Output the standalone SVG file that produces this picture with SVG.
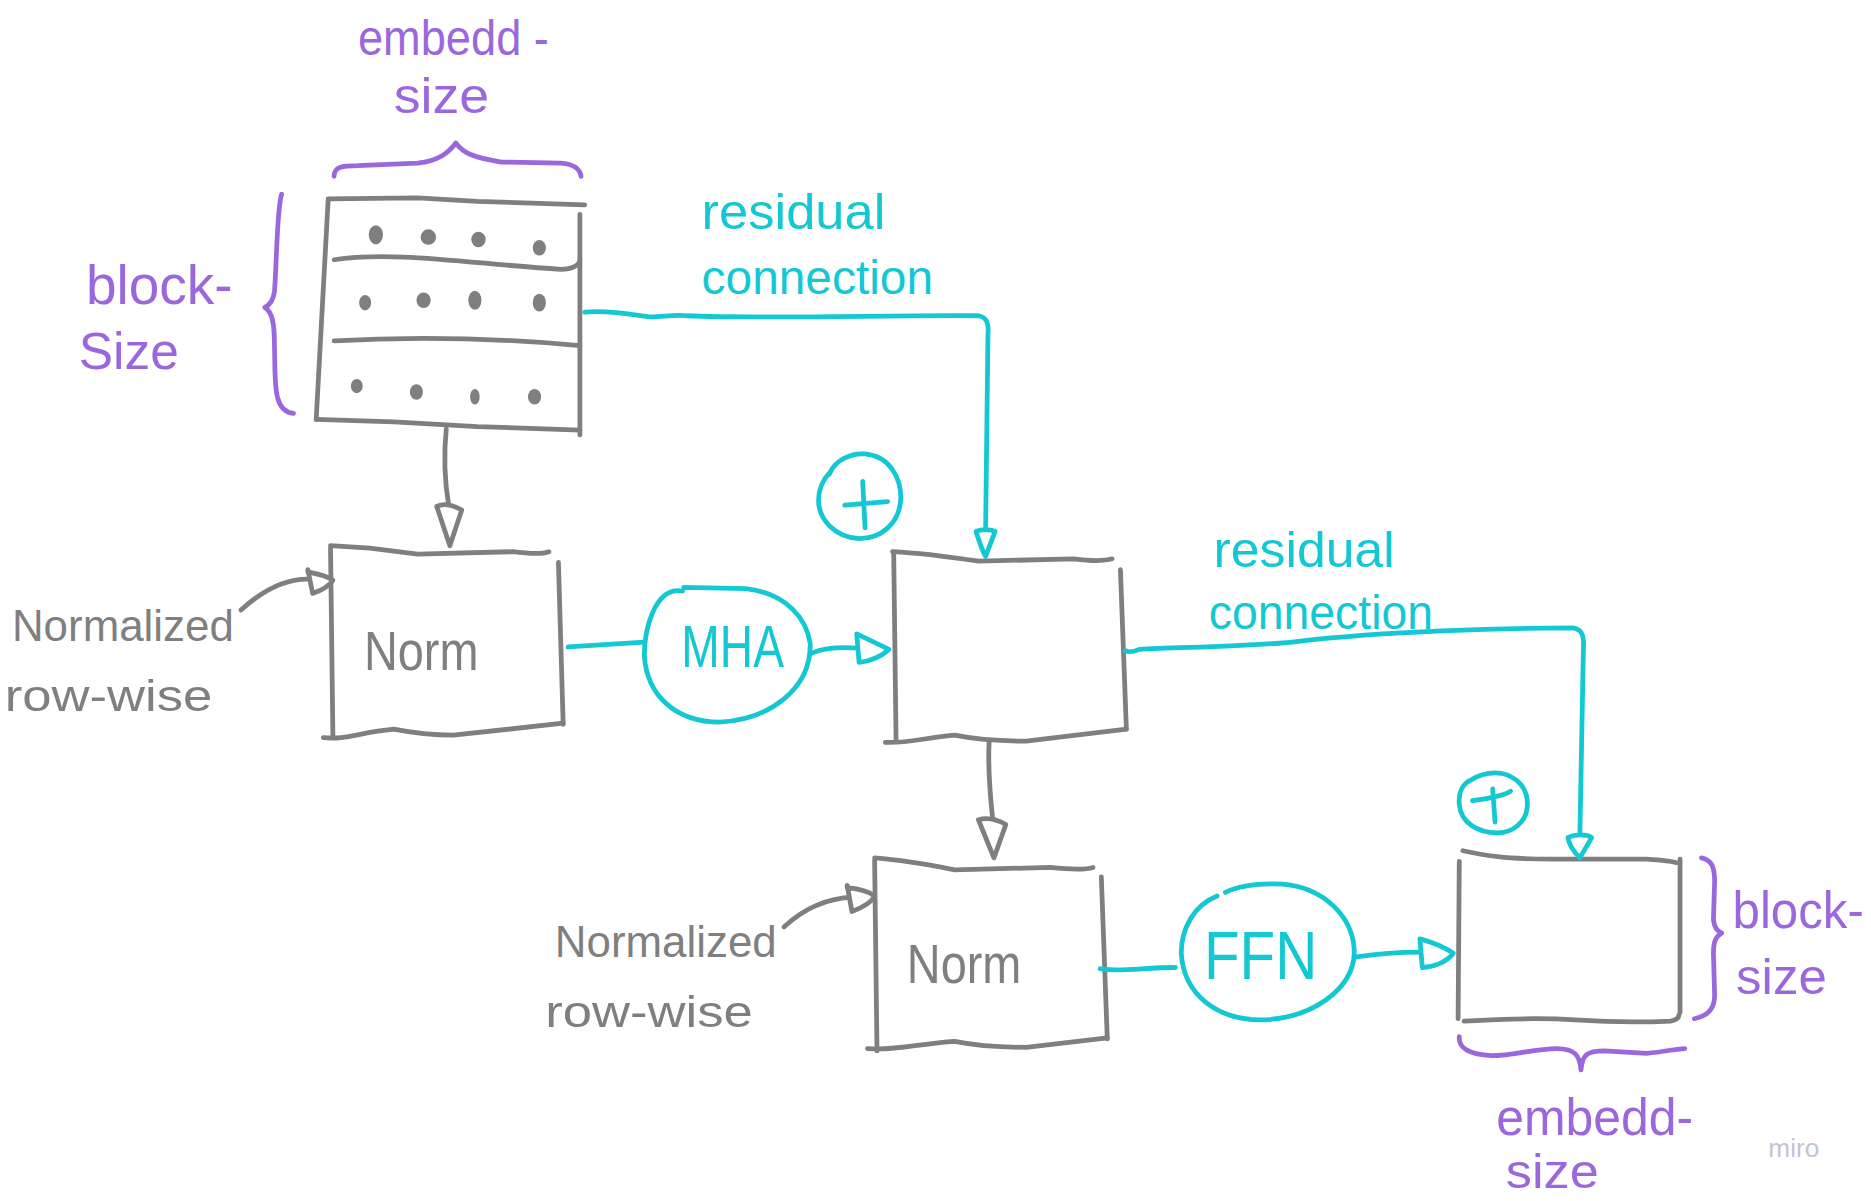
<svg xmlns="http://www.w3.org/2000/svg" width="1871" height="1201" viewBox="0 0 1871 1201">
<style>
.g{fill:none;stroke:#7f7f7f;stroke-width:4;stroke-linecap:round;stroke-linejoin:round}
.c{fill:none;stroke:#14c8d3;stroke-width:4;stroke-linecap:round;stroke-linejoin:round}
.p{fill:none;stroke:#9a68dc;stroke-width:4;stroke-linecap:round;stroke-linejoin:round}
.dot{fill:#7f7f7f}
text{font-family:"Liberation Sans","Open Sans",sans-serif}
.tg{fill:#7f7f7f}
.tc{fill:#14c8d3}
.tp{fill:#9a68dc}
.ah{fill:#fff}
</style>
<rect width="1871" height="1201" fill="#fff"/>
<g transform="scale(1.1932,1.1915)">
<g id="matrix">
<path class="g" d="M275,167 L350,166 L400,169 L490,172"/>
<path class="g" d="M275,168 L265,352"/>
<path class="g" d="M486,180 L486,365"/>
<path class="g" d="M265,352 L330,354 L400,358 L486,361"/>
<path class="g" d="M280,218 C330,210 400,222 470,226 C480,226 486,222 486,218"/>
<path class="g" d="M280,286 C350,282 420,284 486,290"/>
<ellipse class="dot" cx="315" cy="197" rx="6" ry="8"/>
<ellipse class="dot" cx="359" cy="199" rx="6.5" ry="6.5"/>
<ellipse class="dot" cx="401" cy="201" rx="6" ry="6.5"/>
<ellipse class="dot" cx="452" cy="208" rx="5.5" ry="6.5"/>
<ellipse class="dot" cx="306" cy="254" rx="5" ry="6.5"/>
<ellipse class="dot" cx="355" cy="252" rx="6" ry="6.5"/>
<ellipse class="dot" cx="398" cy="252" rx="5.5" ry="8"/>
<ellipse class="dot" cx="452" cy="254" rx="5.5" ry="7.5"/>
<ellipse class="dot" cx="299" cy="324" rx="5" ry="6"/>
<ellipse class="dot" cx="349" cy="329" rx="5.5" ry="6.5"/>
<ellipse class="dot" cx="398" cy="333" rx="4" ry="6.5"/>
<ellipse class="dot" cx="448" cy="333" rx="5.5" ry="6.5"/>
</g>
<g id="embed-brace-top">
<path class="p" d="M280,148 C280,140 286,139 300,139 L350,137 C368,135 376,128 382,120 C388,128 395,132 420,136 L470,137 C482,138 486,142 487,148"/>
<text class="tp" x="300" y="46" font-size="42" textLength="160" lengthAdjust="spacingAndGlyphs">embedd -</text>
<text class="tp" x="330" y="95" font-size="42" textLength="80" lengthAdjust="spacingAndGlyphs">size</text>
</g>
<g id="block-brace-left">
<path class="p" d="M236,163 C232,175 232,220 230,245 C229,252 226,256 222,258 C228,262 230,270 230,290 C231,320 228,345 246,347"/>
<text class="tp" x="72" y="255" font-size="46" textLength="123" lengthAdjust="spacingAndGlyphs">block-</text>
<text class="tp" x="66" y="310" font-size="44" textLength="84" lengthAdjust="spacingAndGlyphs">Size</text>
</g>
<g id="residual-label-1">
<text class="tc" x="588" y="192" font-size="42" textLength="154" lengthAdjust="spacingAndGlyphs">residual</text>
<text class="tc" x="588" y="247" font-size="40" textLength="194" lengthAdjust="spacingAndGlyphs">connection</text>
</g>
<g id="norm1">
<path class="g" d="M277,458 L310,460 L350,465 L430,463 C445,465 455,465 460,463"/>
<path class="g" d="M277,460 L279,618"/>
<path class="g" d="M468,472 L472,608"/>
<path class="g" d="M271,619 C290,621 300,615 330,612 C345,615 360,617 380,617 L472,607"/>
<text class="tg" x="305" y="562" font-size="46" textLength="96" lengthAdjust="spacingAndGlyphs">Norm</text>
</g>
<g id="normalized-label-1">
<text class="tg" x="10" y="538" font-size="38" textLength="186" lengthAdjust="spacingAndGlyphs">Normalized</text>
<text class="tg" x="4" y="597" font-size="38" textLength="174" lengthAdjust="spacingAndGlyphs">row-wise</text>
</g>
<g id="mha">
<path class="c" d="M572,496 C548,492 540,530 540,550 C542,585 568,606 603,606 C645,604 680,578 679,540 C676,520 660,498 625,494 L573,493"/>
<text class="tc" x="571" y="560" font-size="50" textLength="86" lengthAdjust="spacingAndGlyphs">MHA</text>
</g>
<g id="plus1">
<path class="c" d="M695,398 C700,385 715,380 725,381 C745,383 755,400 755,418 C754,440 738,452 720,452 C700,451 686,436 686,420 C686,410 690,402 696,396"/>
<path class="c" d="M708,424 L744,421 M723,404 L725,443"/>
</g>
<g id="sum1">
<path class="g" d="M748,463 C770,464 800,468 820,471 L900,469 C915,471 925,471 932,469"/>
<path class="g" d="M749,465 L751,622"/>
<path class="g" d="M939,478 L944,612"/>
<path class="g" d="M742,623 C760,624 770,620 800,617 C815,620 830,622 860,622 L944,612"/>
</g>
<g id="residual-label-2">
<text class="tc" x="1017" y="476" font-size="42" textLength="152" lengthAdjust="spacingAndGlyphs">residual</text>
<text class="tc" x="1013" y="528" font-size="40" textLength="188" lengthAdjust="spacingAndGlyphs">connection</text>
</g>
<g id="norm2">
<path class="g" d="M733,720 C760,722 780,726 800,730 L880,728 C900,730 910,730 916,728"/>
<path class="g" d="M733,722 L735,882"/>
<path class="g" d="M923,736 L928,872"/>
<path class="g" d="M727,880 C750,882 770,876 800,874 C815,877 830,879 860,879 L928,871"/>
<text class="tg" x="760" y="825" font-size="46" textLength="96" lengthAdjust="spacingAndGlyphs">Norm</text>
</g>
<g id="normalized-label-2">
<text class="tg" x="465" y="803" font-size="38" textLength="186" lengthAdjust="spacingAndGlyphs">Normalized</text>
<text class="tg" x="457" y="862" font-size="38" textLength="174" lengthAdjust="spacingAndGlyphs">row-wise</text>
</g>
<g id="ffn">
<path class="c" d="M1020,752 C1000,760 990,780 990,800 C992,835 1020,856 1057,856 C1100,855 1134,830 1135,800 C1135,770 1110,745 1075,742 C1050,741 1035,745 1027,749"/>
<text class="tc" x="1009" y="822" font-size="58" textLength="95" lengthAdjust="spacingAndGlyphs">FFN</text>
</g>
<g id="plus2">
<path class="c" d="M1232,655 C1240,650 1250,648 1258,649 C1272,652 1281,662 1280,677 C1279,690 1268,699 1255,699 C1238,699 1224,690 1223,675 C1222,665 1226,658 1232,655"/>
<path class="c" d="M1234,672 C1248,670 1260,668 1266,664 M1251,662 L1253,690"/>
</g>
<g id="output">
<path class="g" d="M1226,714 C1245,718 1260,721 1300,721 L1380,721 C1395,722 1402,723 1405,724"/>
<path class="g" d="M1223,723 L1222,855"/>
<path class="g" d="M1408,721 L1408,850"/>
<path class="g" d="M1227,857 C1260,855 1290,854 1320,856 C1350,858 1380,858 1400,857 C1405,856 1407,854 1407,852"/>
</g>
<g id="block-brace-right">
<path class="p" d="M1426,720 C1435,722 1437,728 1437,740 L1436,772 C1437,780 1440,782 1443,783 C1438,786 1436,790 1436,800 L1437,835 C1437,848 1430,853 1420,855"/>
<text class="tp" x="1452" y="779" font-size="44" textLength="110" lengthAdjust="spacingAndGlyphs">block-</text>
<text class="tp" x="1455" y="834" font-size="42" textLength="76" lengthAdjust="spacingAndGlyphs">size</text>
</g>
<g id="embed-brace-bottom">
<path class="p" d="M1223,870 C1222,880 1232,885 1250,886 C1270,886 1285,880 1305,880 C1320,880 1324,886 1325,898 C1326,885 1330,882 1345,882 L1380,884 C1395,883 1405,880 1412,880"/>
<text class="tp" x="1254" y="953" font-size="44" textLength="165" lengthAdjust="spacingAndGlyphs">embedd-</text>
<text class="tp" x="1262" y="997" font-size="40" textLength="78" lengthAdjust="spacingAndGlyphs">size</text>
</g>
<g id="connectors">
<path class="g" d="M374,360 C372,380 372,400 376,424"/>
<path class="g ah" d="M366,425 C372,422 380,424 387,428 L377,458 Z"/>
<path class="g" d="M202,512 C215,500 235,485 260,486"/>
<path class="g ah" d="M258,478 L262,498 C268,496 276,492 279,487 C275,484 268,482 258,480 Z"/>
<path class="c" d="M490,262 C510,260 530,264 545,266 C555,266 565,264 575,265 C650,268 750,264 820,265 C826,266 829,270 828,280 L826,446"/>
<path class="c ah" d="M818,446 C822,444 830,444 834,446 L826,467 C822,460 820,452 818,446 Z"/>
<path class="c" d="M476,543 L540,539"/>
<path class="c" d="M681,548 C690,544 705,543 720,544"/>
<path class="c ah" d="M718,532 L745,545 C740,550 730,555 720,556 Z"/>
<path class="g" d="M829,622 C828,640 829,660 832,688"/>
<path class="g ah" d="M820,688 C827,686 836,688 843,692 L833,720 Z"/>
<path class="c" d="M943,546 C946,548 950,547 955,545 C990,543 1050,543 1090,538 C1160,530 1260,527 1318,527 C1325,528 1328,532 1327,545 L1324,704"/>
<path class="c ah" d="M1314,703 C1320,700 1330,700 1334,703 L1324,720 C1318,714 1315,708 1314,703 Z"/>
<path class="g" d="M657,778 C670,766 690,754 715,753"/>
<path class="g ah" d="M710,743 L714,765 C722,762 730,758 733,752 C728,748 720,746 710,745 Z"/>
<path class="c" d="M922,813 C935,816 960,812 985,812"/>
<path class="c" d="M1137,803 C1150,801 1165,799 1190,799"/>
<path class="c ah" d="M1190,788 C1205,792 1212,796 1218,800 C1212,808 1200,812 1192,812 Z"/>
</g>
<g id="miro-logo">
<text x="1482" y="971" font-size="22" fill="#c4c4d0">miro</text>
</g>
</g>
</svg>
